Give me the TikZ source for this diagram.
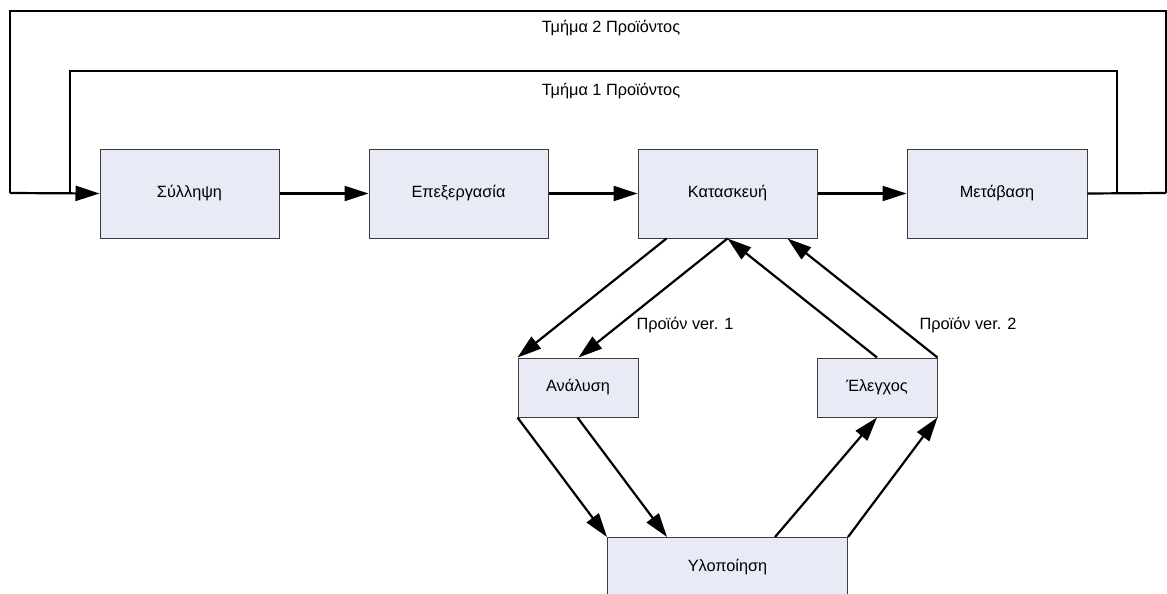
\documentclass[tikz,border=0pt]{standalone}
\usepackage{fontspec}
\setmainfont{Liberation Sans}
\usetikzlibrary{arrows.meta}
\definecolor{boxfill}{RGB}{232,235,246}
\definecolor{boxline}{RGB}{60,60,60}
\begin{document}
\begin{tikzpicture}[x=1pt,y=-1pt,
  phase/.style={draw=boxline,fill=boxfill,line width=1pt,inner sep=0pt,
    minimum width=179pt,minimum height=89pt,font=\fontsize{16.3}{19}\selectfont},
  small/.style={phase,minimum width=120pt,minimum height=59pt},
  wide/.style={phase,minimum width=240pt,minimum height=60pt},
  flow/.style={line width=2.2pt,line join=miter},
  arr/.style={flow,-{Triangle[length=24pt,width=15pt]}},
  lbl/.style={inner sep=0pt,font=\fontsize{16.3}{19}\selectfont}]
\useasboundingbox (0,0) rectangle (1167,594);
\clip (0,0) rectangle (1167,594);

% main phases
\node[phase] (s1) at (189.5,193.5) {Σύλληψη};
\node[phase] (s2) at (458.5,193.5) {Επεξεργασία};
\node[phase] (s3) at (727.5,193.5) {Κατασκευή};
\node[phase,minimum width=180pt] (s4) at (997,193.5) {Μετάβαση};

% iteration phases
\node[small] (an) at (578,387.5) {Ανάλυση};
\node[small] (el) at (877,387.5) {Έλεγχος};
\node[wide] (yl) at (727.5,567.5) {Υλοποίηση};

% loop junctions
\coordinate (oR) at (1166,193);
\coordinate (iR) at (1117,193);
\coordinate (oL) at (10,193);
\coordinate (iL) at (70,193);

% forward flow
\draw[arr] (s1.east) -- (s2.west);
\draw[arr] (s2.east) -- (s3.west);
\draw[arr] (s3.east) -- (s4.west);
\draw[flow] (s4.east) -- (oR);

% feedback loops
\draw[flow] (oR) -- ++(0,-182) -| (oL);
\draw[flow] (iR) -- ++(0,-122) -| (iL);
\draw[arr] (oL) -- (s1.west);

\node[lbl] (t2) at (611,28) {Τμήμα 2 Προϊόντος};
\node[lbl] (t1) at (611,91) {Τμήμα 1 Προϊόντος};

% construction cycle
\draw[arr] ([xshift=29pt]s3.south west) -- (an.north west);
\draw[arr] ([xshift=90pt]s3.south west) -- ([xshift=61pt]an.north west);
\draw[arr] (el.north) -- ([xshift=90pt]s3.south west);
\draw[arr] (el.north east) -- ([xshift=150pt]s3.south west);

\draw[arr] (an.south west) -- (yl.north west);
\draw[arr] ([xshift=60pt]an.south west) -- ([xshift=60pt]yl.north west);
\draw[arr] ([xshift=168pt]yl.north west) -- (el.south);
\draw[arr] (yl.north east) -- (el.south east);

\node[lbl] (v1) at (685,325) {Προϊόν ver. 1};
\node[lbl] (v2) at (968,325) {Προϊόν ver. 2};
\end{tikzpicture}
\end{document}
